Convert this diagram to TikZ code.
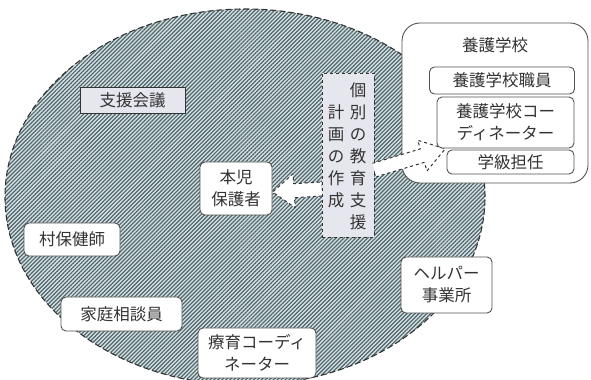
\documentclass[tikz,border=0pt]{standalone}
\usepackage{fontspec}
\setmainfont{Noto Sans CJK JP}
\usetikzlibrary{patterns.meta}
\definecolor{hatchbg}{HTML}{D8E0E2}
\definecolor{hatchline}{HTML}{4E676C}
\definecolor{planfill}{HTML}{E6E6EE}
\definecolor{ink}{HTML}{333333}
\begin{document}
\begin{tikzpicture}[line join=bevel,
  every node/.style={text=ink,inner sep=0pt,font=\fontsize{16.5bp}{22bp}\selectfont},
  member/.style={draw=ink!85,fill=white,rounded corners=5bp,line width=0.9bp,align=center},
  tagbox/.style={draw=ink,fill=planfill,line width=0.9bp},
  flow/.style={draw=ink,dashed,fill=white,line width=1bp},
]
%%
\useasboundingbox (0bp,0bp) rectangle (591bp,380bp);
\fill [white] (0bp,0bp) rectangle (591bp,380bp);
\draw [ink,line width=1.1bp,dash pattern=on 6bp off 3bp,preaction={fill=hatchbg},
  pattern={Lines[angle=45,distance=2.8bp,line width=1.2bp]},pattern color=hatchline]
  (245bp,183bp) ellipse [x radius=240bp,y radius=188bp];
%
\node (meeting) at (132.5bp,280bp) [tagbox,minimum width=105bp,minimum height=26bp] {支援会議};
\node (plan) at (348bp,225bp) [tagbox,dashed,minimum width=52bp,minimum height=164bp] {};
  \node (planR) at (358bp,224bp) [align=center] {個\\別\\の\\教\\育\\支\\援};
  \node (planL) at (336bp,224bp) [align=center] {計\\画\\の\\作\\成};
\node (school) at (495bp,277bp) [member,rounded corners=18bp,minimum width=186bp,minimum height=160bp] {};
  \node (schoolT) at (495bp,335bp) {養護学校};
%
\begin{scope}[shift={([yshift=-34bp]plan.west)},rotate=183.6]
  \draw [flow] (0bp,7bp) -- (27.5bp,7bp) -- (27.5bp,17bp) -- (49bp,0bp)
    -- (27.5bp,-17bp) -- (27.5bp,-7bp) -- (0bp,-7bp);
\end{scope}
\begin{scope}[shift={([yshift=-15bp]plan.east)},rotate=16.7]
  \draw [flow] (0bp,7bp) -- (50bp,7bp) -- (50bp,16bp) -- (74bp,0bp)
    -- (50bp,-16bp) -- (50bp,-7bp) -- (0bp,-7bp);
\end{scope}
%
  \node (staff) at (502bp,299.5bp) [member,minimum width=145bp,minimum height=27bp] {養護学校職員};
  \node (coord) at (505.5bp,257.5bp) [member,minimum width=137bp,minimum height=51bp] {養護学校コー\\ディネーター};
  \node (homeroom) at (510.5bp,218bp) [member,minimum width=127bp,minimum height=24bp] {学級担任};
\node (parent) at (236bp,191.5bp) [member,minimum width=72bp,minimum height=53bp] {本児\\保護者};
\node (nurse) at (72bp,140.5bp) [member,minimum width=96bp,minimum height=33bp] {村保健師};
\node (counsel) at (121.5bp,66bp) [member,minimum width=121bp,minimum height=34bp] {家庭相談員};
\node (therapy) at (257bp,27bp) [member,minimum width=118bp,minimum height=50bp] {療育コーディ\\ネーター};
\node (helper) at (446.5bp,95bp) [member,minimum width=91bp,minimum height=56bp] {ヘルパー\\事業所};
%
\end{tikzpicture}
\end{document}
